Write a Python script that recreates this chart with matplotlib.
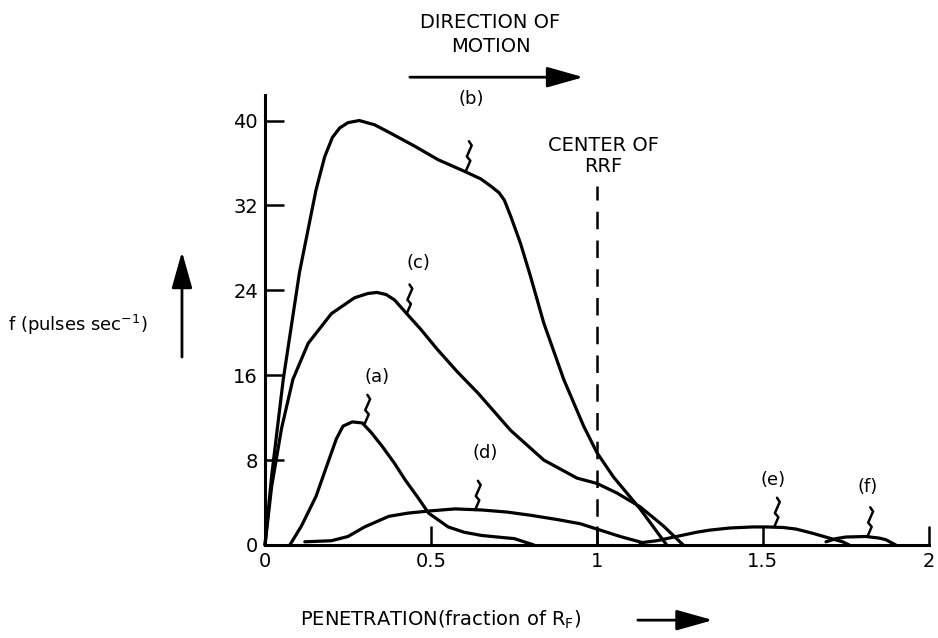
import matplotlib.pyplot as plt
import matplotlib.transforms as mtransforms
from matplotlib.patches import FancyArrowPatch

# penetration (fraction of R_F) vs firing rate f (pulses/sec)
a_x = [0.075, 0.11, 0.154, 0.19, 0.215, 0.235, 0.263, 0.293, 0.32, 0.353, 0.39, 0.423, 0.46, 0.493, 0.552, 0.60, 0.652, 0.70, 0.751, 0.81]
a_y = [0.0, 1.8, 4.6, 7.8, 10.0, 11.2, 11.6, 11.5, 10.6, 9.3, 7.7, 6.1, 4.5, 3.0, 1.7, 1.2, 0.9, 0.75, 0.6, 0.0]

b_x = [0.0, 0.02, 0.055, 0.104, 0.154, 0.18, 0.203, 0.225, 0.25, 0.284, 0.33, 0.373, 0.45, 0.522, 0.602, 0.65, 0.681, 0.705, 0.721, 0.74, 0.77, 0.80, 0.84, 0.90, 0.96, 1.0, 1.05, 1.13, 1.21]
b_y = [0.0, 6.5, 15.6, 25.7, 33.5, 36.6, 38.4, 39.3, 39.8, 40.0, 39.6, 38.9, 37.6, 36.3, 35.2, 34.5, 33.8, 33.2, 32.5, 31.0, 28.4, 25.3, 20.9, 15.6, 11.2, 8.7, 6.4, 3.4, 0.0]

c_x = [0.0, 0.02, 0.05, 0.084, 0.13, 0.2, 0.27, 0.31, 0.337, 0.365, 0.39, 0.427, 0.47, 0.52, 0.58, 0.642, 0.74, 0.84, 0.94, 1.0, 1.06, 1.13, 1.2, 1.26]
c_y = [0.0, 5.5, 11.0, 15.6, 19.0, 21.8, 23.3, 23.7, 23.8, 23.6, 23.1, 21.8, 20.3, 18.4, 16.3, 14.3, 10.8, 8.0, 6.3, 5.8, 4.9, 3.6, 1.8, 0.0]

d_x = [0.12, 0.2, 0.25, 0.30, 0.373, 0.43, 0.493, 0.572, 0.652, 0.73, 0.80, 0.88, 0.95, 1.0, 1.07, 1.14]
d_y = [0.3, 0.4, 0.8, 1.7, 2.7, 3.0, 3.2, 3.4, 3.3, 3.1, 2.8, 2.4, 2.0, 1.5, 0.8, 0.2]

e_x = [1.13, 1.18, 1.24, 1.30, 1.34, 1.40, 1.47, 1.51, 1.56, 1.60, 1.65, 1.70, 1.74, 1.76]
e_y = [0.2, 0.4, 0.8, 1.2, 1.4, 1.6, 1.7, 1.7, 1.65, 1.5, 1.1, 0.65, 0.3, 0.0]

f_x = [1.69, 1.72, 1.75, 1.81, 1.85, 1.87, 1.90]
f_y = [0.3, 0.6, 0.75, 0.8, 0.65, 0.5, 0.0]

curves = [(a_x, a_y), (b_x, b_y), (c_x, c_y), (d_x, d_y), (e_x, e_y), (f_x, f_y)]

# label text position and the point on the curve where its squiggle lands
labels = ['(a)', '(b)', '(c)', '(d)', '(e)', '(f)']
label_xy = [(0.337, 15.8), (0.62, 42.0), (0.463, 26.6), (0.663, 8.7), (1.53, 6.1), (1.815, 5.5)]
anchor_xy = [(0.30, 11.4), (0.606, 35.3), (0.427, 21.8), (0.633, 3.3), (1.534, 1.7), (1.815, 0.8)]

xticks = [0, 0.5, 1, 1.5, 2]
xticklabels = ['0', '0.5', '1', '1.5', '2']
yticks = [0, 8, 16, 24, 32, 40]

fig = plt.figure(figsize=(9.38, 6.38), dpi=100)
ax = fig.add_axes([0.2825, 0.1458, 0.7078, 0.7052])

for x, y in curves:
    ax.plot(x, y, color='black', lw=2.3, solid_joinstyle='round', solid_capstyle='round', clip_on=False)

# centre of receptive field
ax.plot([1, 1], [0, 33.8], color='black', lw=1.8, dashes=(7, 4.5))
ax.text(1.02, 34.8, 'CENTER OF\nRRF', ha='center', va='bottom', fontsize=14, linespacing=1.1)

# squiggle leaders from labels to curves (vertices in inches from the curve point)
sq = [(0, 0), (3, 7), (0.5, 10), (4, 18), (2, 21)]
sq_x = [p[0] / 72.0 for p in sq]
sq_y = [p[1] / 72.0 for p in sq]
for lab, (lx, ly), (cx, cy) in zip(labels, label_xy, anchor_xy):
    ax.text(lx, ly, lab, ha='center', va='center', fontsize=13)
    tr = fig.dpi_scale_trans + mtransforms.ScaledTranslation(cx, cy, ax.transData)
    ax.plot(sq_x, sq_y, color='black', lw=1.8, transform=tr, clip_on=False,
            solid_joinstyle='round', solid_capstyle='round')

ax.set_xlim(0, 2)
ax.set_ylim(0, 42.4)
ax.set_xticks(xticks)
ax.set_xticklabels(xticklabels)
ax.set_yticks(yticks)
ax.spines['top'].set_visible(False)
ax.spines['right'].set_visible(False)
ax.spines['left'].set_linewidth(2.2)
ax.spines['bottom'].set_linewidth(2.2)
ax.tick_params(direction='in', length=14, width=1.8, labelsize=14, pad=5)

# annotations outside the axes
fig.text(0.523, 0.965, 'DIRECTION OF', ha='center', va='center', fontsize=14)
fig.text(0.523, 0.927, 'MOTION', ha='center', va='center', fontsize=14)
fig.add_artist(FancyArrowPatch(
    (0.434, 0.879), (0.625, 0.879), transform=fig.transFigure,
    arrowstyle='-|>,head_length=1.6,head_width=0.45', mutation_scale=14, lw=2, color='black'))

fig.text(0.008, 0.49, 'f (pulses sec$^{-1}$)', ha='left', va='center', fontsize=13)
fig.add_artist(FancyArrowPatch(
    (0.194, 0.436), (0.194, 0.61), transform=fig.transFigure,
    arrowstyle='-|>,head_length=1.6,head_width=0.45', mutation_scale=14, lw=2, color='black'))

fig.text(0.32, 0.028, 'PENETRATION(fraction of R$_\\mathregular{F}$)', ha='left', va='center', fontsize=14)
fig.add_artist(FancyArrowPatch(
    (0.677, 0.028), (0.763, 0.028), transform=fig.transFigure,
    arrowstyle='-|>,head_length=1.6,head_width=0.45', mutation_scale=14, lw=2, color='black'))

fig.savefig('out.png', dpi=100)
